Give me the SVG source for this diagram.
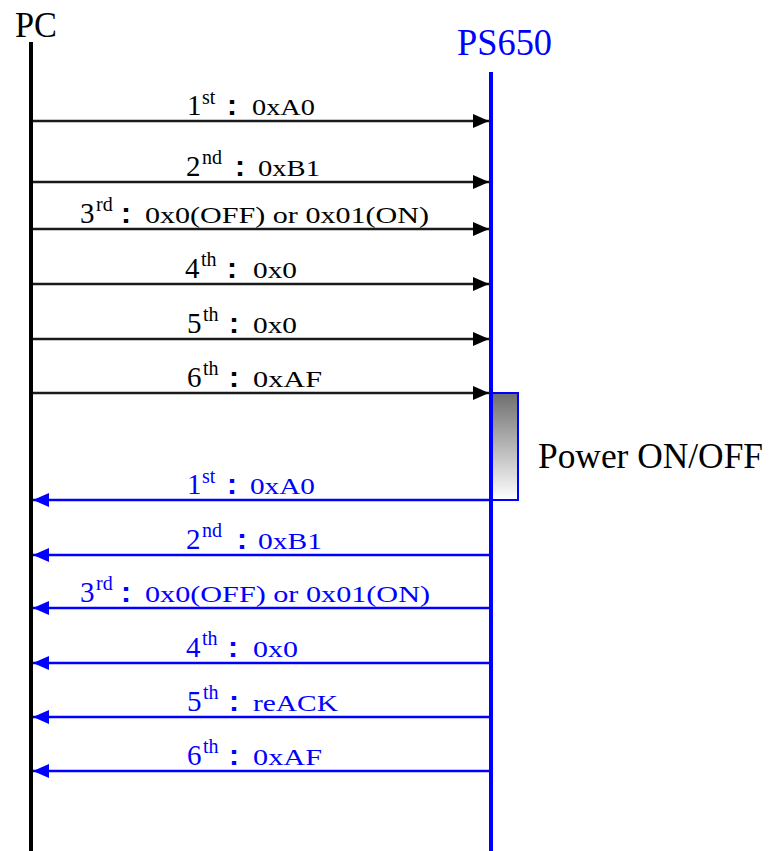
<svg xmlns="http://www.w3.org/2000/svg" width="771" height="851" viewBox="0 0 771 851">
<style>
.hdr{font-family:"Liberation Serif","Times New Roman",serif;}
.num{font-family:"Liberation Serif","Times New Roman",serif;font-size:29px;}
.sup{font-family:"Liberation Serif","Times New Roman",serif;font-size:20px;}
.col{font-family:"Liberation Sans",Arial,sans-serif;font-weight:bold;font-size:30px;}
.val{font-family:"Liberation Serif","Times New Roman",serif;font-size:23px;}
.note{font-family:"Liberation Serif","Times New Roman",serif;font-size:35px;fill:#000;}
.blk{fill:#000;}
.blu{fill:#0000ff;}
.req{stroke:#1a1a1a;stroke-width:2.5;fill:none;}
.rsp{stroke:#0000ff;stroke-width:2.5;fill:none;}
</style>
<defs>
<marker id="ahB" viewBox="0 0 16 14" refX="16" refY="7" markerWidth="16" markerHeight="14" markerUnits="userSpaceOnUse" orient="auto">
<path d="M0,0 L16,7 L0,14 Z" fill="#000"/>
</marker>
<marker id="ahU" viewBox="0 0 16 14" refX="16" refY="7" markerWidth="16" markerHeight="14" markerUnits="userSpaceOnUse" orient="auto">
<path d="M0,0 L16,7 L0,14 Z" fill="#0000ff"/>
</marker>
<linearGradient id="act" x1="0" y1="0" x2="0" y2="1">
<stop offset="0" stop-color="#6e6e6e"/>
<stop offset="1" stop-color="#ffffff"/>
</linearGradient>
</defs>
<rect width="771" height="851" fill="#fff"/>

<g id="pc">
<text class="hdr blk" x="15" y="37" font-size="36" textLength="42" lengthAdjust="spacingAndGlyphs">PC</text>
<line x1="31" y1="42" x2="31" y2="851" stroke="#000" stroke-width="4"/>
</g>

<g id="ps650">
<text class="hdr blu" x="457" y="55" font-size="38" textLength="95" lengthAdjust="spacingAndGlyphs">PS650</text>
<line x1="491" y1="72" x2="491" y2="851" stroke="#0000ff" stroke-width="4"/>
</g>

<g id="activation">
<rect x="491" y="393" width="27" height="107" fill="url(#act)" stroke="#0000ff" stroke-width="2"/>
<line x1="491" y1="393" x2="491" y2="500" stroke="#0000ff" stroke-width="4"/>
<text class="note" x="538" y="468" textLength="225" lengthAdjust="spacingAndGlyphs">Power ON/OFF</text>
</g>

<g id="connectors">
<line class="req" x1="33" y1="121" x2="489" y2="121" marker-end="url(#ahB)"/>
<line class="req" x1="33" y1="182" x2="489" y2="182" marker-end="url(#ahB)"/>
<line class="req" x1="33" y1="229" x2="489" y2="229" marker-end="url(#ahB)"/>
<line class="req" x1="33" y1="284" x2="489" y2="284" marker-end="url(#ahB)"/>
<line class="req" x1="33" y1="339" x2="489" y2="339" marker-end="url(#ahB)"/>
<line class="req" x1="33" y1="393" x2="489" y2="393" marker-end="url(#ahB)"/>
<line class="rsp" x1="490" y1="500" x2="33" y2="500" marker-end="url(#ahU)"/>
<line class="rsp" x1="490" y1="555" x2="33" y2="555" marker-end="url(#ahU)"/>
<line class="rsp" x1="490" y1="608" x2="33" y2="608" marker-end="url(#ahU)"/>
<line class="rsp" x1="490" y1="663" x2="33" y2="663" marker-end="url(#ahU)"/>
<line class="rsp" x1="490" y1="717" x2="33" y2="717" marker-end="url(#ahU)"/>
<line class="rsp" x1="490" y1="771" x2="33" y2="771" marker-end="url(#ahU)"/>
</g>

<g id="labels-request" class="blk">
<text y="115"><tspan class="num" x="187">1</tspan><tspan class="sup" x="202" dy="-11">st</tspan><tspan class="col" x="227" dy="11">:</tspan><tspan class="val" x="252" textLength="63" lengthAdjust="spacingAndGlyphs">0xA0</tspan></text>
<text y="176"><tspan class="num" x="186">2</tspan><tspan class="sup" x="202" dy="-12">nd</tspan><tspan class="col" x="235" dy="12">:</tspan><tspan class="val" x="258" textLength="62" lengthAdjust="spacingAndGlyphs">0xB1</tspan></text>
<text y="223"><tspan class="num" x="80">3</tspan><tspan class="sup" x="96" dy="-12">rd</tspan><tspan class="col" x="121" dy="12">:</tspan><tspan class="val" x="145" textLength="284" lengthAdjust="spacingAndGlyphs">0x0(OFF) or 0x01(ON)</tspan></text>
<text y="278"><tspan class="num" x="185">4</tspan><tspan class="sup" x="201" dy="-12">th</tspan><tspan class="col" x="227" dy="12">:</tspan><tspan class="val" x="253" textLength="44" lengthAdjust="spacingAndGlyphs">0x0</tspan></text>
<text y="333"><tspan class="num" x="187">5</tspan><tspan class="sup" x="203" dy="-12">th</tspan><tspan class="col" x="229" dy="12">:</tspan><tspan class="val" x="253" textLength="44" lengthAdjust="spacingAndGlyphs">0x0</tspan></text>
<text y="387"><tspan class="num" x="187">6</tspan><tspan class="sup" x="203" dy="-12">th</tspan><tspan class="col" x="229" dy="12">:</tspan><tspan class="val" x="253" textLength="69" lengthAdjust="spacingAndGlyphs">0xAF</tspan></text>
</g>

<g id="labels-response" class="blu">
<text y="494"><tspan class="num" x="187">1</tspan><tspan class="sup" x="202" dy="-11">st</tspan><tspan class="col" x="227" dy="11">:</tspan><tspan class="val" x="250" textLength="65" lengthAdjust="spacingAndGlyphs">0xA0</tspan></text>
<text y="549"><tspan class="num" x="186">2</tspan><tspan class="sup" x="202" dy="-12">nd</tspan><tspan class="col" x="237" dy="12">:</tspan><tspan class="val" x="258" textLength="64" lengthAdjust="spacingAndGlyphs">0xB1</tspan></text>
<text y="602"><tspan class="num" x="80">3</tspan><tspan class="sup" x="96" dy="-12">rd</tspan><tspan class="col" x="121" dy="12">:</tspan><tspan class="val" x="145" textLength="285" lengthAdjust="spacingAndGlyphs">0x0(OFF) or 0x01(ON)</tspan></text>
<text y="657"><tspan class="num" x="186">4</tspan><tspan class="sup" x="202" dy="-12">th</tspan><tspan class="col" x="228" dy="12">:</tspan><tspan class="val" x="253" textLength="45" lengthAdjust="spacingAndGlyphs">0x0</tspan></text>
<text y="711"><tspan class="num" x="187">5</tspan><tspan class="sup" x="203" dy="-12">th</tspan><tspan class="col" x="229" dy="12">:</tspan><tspan class="val" x="253" textLength="85" lengthAdjust="spacingAndGlyphs">reACK</tspan></text>
<text y="765"><tspan class="num" x="187">6</tspan><tspan class="sup" x="203" dy="-12">th</tspan><tspan class="col" x="229" dy="12">:</tspan><tspan class="val" x="253" textLength="69" lengthAdjust="spacingAndGlyphs">0xAF</tspan></text>
</g>
</svg>
